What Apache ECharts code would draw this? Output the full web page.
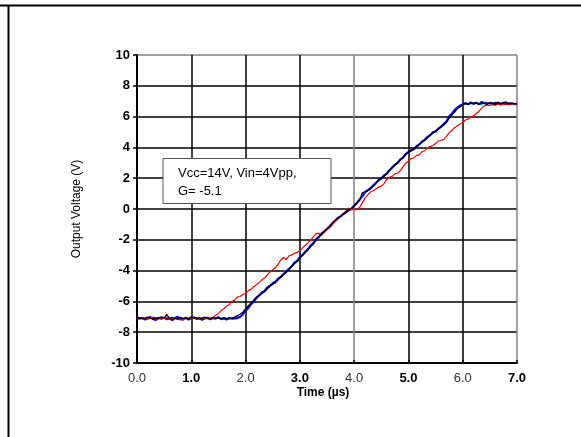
<!DOCTYPE html>
<html>
<head>
<meta charset="utf-8">
<script src="https://cdn.jsdelivr.net/npm/echarts@6/dist/echarts.min.js"></script>
<style>
html,body{margin:0;padding:0;background:#fff;}
#chart{width:581px;height:437px;}
</style>
</head>
<body>
<div id="chart"></div>
<script>
// Time samples (µs)
const times = [
0.00,0.05,0.10,0.15,0.20,0.25,0.30,0.35,0.40,0.45,
0.50,0.55,0.60,0.65,0.70,0.75,0.80,0.85,0.90,0.95,
1.00,1.05,1.10,1.15,1.20,1.25,1.30,1.35,1.40,1.45,
1.50,1.55,1.60,1.65,1.70,1.75,1.80,1.85,1.90,1.95,
2.00,2.05,2.10,2.15,2.20,2.25,2.30,2.35,2.40,2.45,
2.50,2.55,2.60,2.65,2.70,2.75,2.80,2.85,2.90,2.95,
3.00,3.05,3.10,3.15,3.20,3.25,3.30,3.35,3.40,3.45,
3.50,3.55,3.60,3.65,3.70,3.75,3.80,3.85,3.90,3.95,
4.00,4.05,4.10,4.15,4.20,4.25,4.30,4.35,4.40,4.45,
4.50,4.55,4.60,4.65,4.70,4.75,4.80,4.85,4.90,4.95,
5.00,5.05,5.10,5.15,5.20,5.25,5.30,5.35,5.40,5.45,
5.50,5.55,5.60,5.65,5.70,5.75,5.80,5.85,5.90,5.95,
6.00,6.05,6.10,6.15,6.20,6.25,6.30,6.35,6.40,6.45,
6.50,6.55,6.60,6.65,6.70,6.75,6.80,6.85,6.90,6.95,
7.00];

const blueTrace = [
-7.05,-7.12,-7.08,-7.18,-7.10,-7.02,-7.15,-7.20,-7.08,-7.12,
-7.05,-7.16,-7.10,-7.22,-7.08,-7.00,-7.12,-7.15,-7.06,-7.18,
-7.10,-7.04,-7.14,-7.08,-7.20,-7.10,-7.06,-7.16,-7.08,-7.12,
-7.02,-7.15,-7.10,-7.18,-7.08,-7.12,-7.10,-7.08,-7.00,-6.85,
-6.60,-6.42,-6.18,-6.02,-5.78,-5.62,-5.42,-5.32,-5.10,-4.98,
-4.82,-4.72,-4.52,-4.42,-4.22,-4.08,-3.88,-3.72,-3.48,-3.38,
-3.12,-2.98,-2.78,-2.62,-2.38,-2.22,-1.98,-1.82,-1.58,-1.48,
-1.28,-1.12,-0.92,-0.78,-0.58,-0.48,-0.32,-0.22,-0.08,0.02,
0.22,0.38,0.62,0.82,1.08,1.22,1.32,1.52,1.68,1.88,
1.98,2.18,2.28,2.52,2.68,2.88,2.98,3.22,3.32,3.58,
3.68,3.82,3.88,4.08,4.18,4.38,4.48,4.68,4.78,4.98,
5.02,5.22,5.32,5.52,5.68,6.02,6.18,6.42,6.58,6.72,
6.78,6.86,6.82,6.88,6.84,6.90,6.82,6.86,6.90,6.84,
6.88,6.82,6.90,6.86,6.84,6.88,6.82,6.86,6.84,6.80,
6.82];

const blackTrace = [
-7.10,-7.05,-7.12,-7.08,-7.02,-7.10,-7.15,-7.06,-7.10,-7.00,
-7.08,-6.85,-7.12,-7.05,-7.10,-7.15,-7.04,-7.10,-7.08,-7.12,
-7.00,-7.10,-7.06,-7.14,-7.08,-7.02,-7.12,-7.10,-7.05,-7.10,
-7.08,-7.12,-7.06,-7.10,-7.12,-7.08,-7.02,-6.92,-6.82,-6.70,
-6.48,-6.30,-6.12,-5.92,-5.72,-5.60,-5.50,-5.36,-5.18,-5.02,
-4.88,-4.78,-4.60,-4.38,-4.25,-4.10,-3.95,-3.72,-3.55,-3.40,
-3.18,-3.00,-2.82,-2.58,-2.42,-2.25,-1.95,-1.78,-1.62,-1.42,
-1.30,-1.15,-0.90,-0.72,-0.62,-0.45,-0.36,-0.18,-0.05,0.05,
0.18,0.42,0.55,1.05,1.12,1.18,1.38,1.48,1.70,1.85,
2.02,2.12,2.32,2.48,2.72,2.82,3.02,3.18,3.36,3.52,
3.72,3.78,3.92,4.02,4.22,4.32,4.52,4.62,4.82,4.92,
5.08,5.18,5.38,5.45,5.62,5.90,6.10,6.30,6.50,6.62,
6.75,6.88,6.78,6.95,6.82,6.90,6.78,6.98,6.85,6.80,
6.92,6.88,6.78,6.95,6.82,6.90,6.95,6.80,6.88,6.85,
6.82];

const redTrace = [
-7.08,-7.12,-7.05,-7.10,-7.15,-7.08,-7.02,-7.10,-7.12,-7.06,
-7.10,-7.04,-7.12,-7.08,-7.10,-7.15,-7.20,-7.22,-7.06,-7.12,
-7.08,-7.10,-7.05,-7.12,-7.08,-7.10,-7.04,-7.10,-7.05,-6.90,
-6.78,-6.60,-6.48,-6.30,-6.22,-6.00,-5.92,-5.70,-5.68,-5.55,
-5.48,-5.30,-5.22,-5.05,-4.92,-4.78,-4.60,-4.48,-4.30,-4.08,
-3.95,-3.82,-3.58,-3.30,-3.15,-3.28,-3.05,-2.98,-2.88,-2.82,
-2.70,-2.52,-2.35,-2.20,-2.02,-1.80,-1.60,-1.58,-1.72,-1.50,
-1.35,-1.20,-1.02,-0.82,-0.65,-0.48,-0.30,-0.12,0.05,-0.05,
-0.02,-0.05,0.10,0.40,0.72,0.90,1.10,1.18,1.30,1.42,
1.48,1.65,1.92,2.05,2.12,2.28,2.32,2.48,2.75,2.98,
3.10,3.28,3.32,3.48,3.52,3.72,3.78,3.98,4.05,4.12,
4.25,4.42,4.45,4.52,4.72,4.95,5.10,5.28,5.40,5.52,
5.60,5.78,5.85,5.98,6.05,6.20,6.35,6.55,6.70,6.75,
6.72,6.78,6.75,6.80,6.76,6.78,6.82,6.78,6.80,6.84,
6.80];

const xTickLabels = ['0.0','1.0','2.0','3.0','4.0','5.0','6.0','7.0'];
const yTickLabels = ['-10','-8','-6','-4','-2','0','2','4','6','8','10'];
const annotationLines = ['Vcc=14V, Vin=4Vpp,', 'G= -5.1'];
const xTitle = 'Time (µs)';
const yTitle = 'Output Voltage (V)';

function pairs(vals){ return vals.map((v,i)=>[times[i], v]); }

const FONT = '"Liberation Sans", Arial, Helvetica, sans-serif';
const chart = echarts.init(document.getElementById('chart'), null, {renderer:'canvas'});

chart.setOption({
  animation:false,
  backgroundColor:'#fff',
  grid:{left:137, right:64, top:55, bottom:74, show:false},
  xAxis:{
    type:'value', min:0, max:7, interval:1,
    axisLine:{show:true, onZero:false, lineStyle:{color:'#000', width:2}},
    axisTick:{show:true, inside:true, length:3, lineStyle:{color:'#000', width:1.5}},
    splitLine:{show:true, lineStyle:{color:['#000','#000','#000','#000','#808080','#000','#000','#808080'], width:1.5}},
    axisLabel:{
      margin:9, fontFamily:FONT, fontSize:13,
      formatter:function(v){
        const i = Math.round(v);
        const s = xTickLabels[i];
        return (i % 2 === 1) ? '{b|'+s+'}' : '{n|'+s+'}';
      },
      rich:{
        b:{fontFamily:FONT, fontSize:13, fontWeight:'bold', color:'#000'},
        n:{fontFamily:FONT, fontSize:13, fontWeight:'normal', color:'#333'}
      }
    }
  },
  yAxis:{
    type:'value', min:-10, max:10, interval:2,
    axisLine:{show:true, onZero:false, lineStyle:{color:'#000', width:2}},
    axisTick:{show:true, length:4, lineStyle:{color:'#000', width:1.5}},
    splitLine:{show:true, lineStyle:{color:['#000','#000','#000','#000','#000','#000','#000','#000','#000','#000','#808080'], width:1.5}},
    axisLabel:{
      margin:7, fontFamily:FONT, fontSize:13, fontWeight:'bold', color:'#000',
      formatter:function(v){ return yTickLabels[Math.round((v+10)/2)]; }
    }
  },
  series:[
    {type:'line', name:'blue', data:pairs(blueTrace), showSymbol:false, symbol:'none',
     lineStyle:{color:'#0000ff', width:2.2}, z:2},
    {type:'line', name:'red', data:pairs(redTrace), showSymbol:false, symbol:'none',
     lineStyle:{color:'#ff0000', width:1.2}, z:3},
    {type:'line', name:'black', data:pairs(blackTrace), showSymbol:false, symbol:'none',
     lineStyle:{color:'#000000', width:1.3}, z:4}
  ],
  graphic:[
    {type:'line', shape:{x1:0, y1:5.5, x2:581, y2:5.5}, style:{stroke:'#000', lineWidth:2}},
    {type:'line', shape:{x1:8.5, y1:5, x2:8.5, y2:437}, style:{stroke:'#000', lineWidth:2}},
    {type:'rect', shape:{x:163, y:158.5, width:168, height:45}, style:{fill:'#fff', stroke:'#555', lineWidth:1}, z:100},
    {type:'text', x:178, y:173, style:{text:annotationLines[0], font:'13px '+FONT, fill:'#000', textVerticalAlign:'middle', verticalAlign:'middle'}, z:101},
    {type:'text', x:178, y:191.5, style:{text:annotationLines[1], font:'13px '+FONT, fill:'#000', textVerticalAlign:'middle', verticalAlign:'middle'}, z:101},
    {type:'text', x:323, y:393, style:{text:xTitle, font:'bold 12px '+FONT, fill:'#000', align:'center', verticalAlign:'middle', textAlign:'center', textVerticalAlign:'middle'}, z:101},
    {type:'text', x:77, y:209, rotation:Math.PI/2, style:{text:yTitle, font:'12px '+FONT, fill:'#000', align:'center', verticalAlign:'middle', textAlign:'center', textVerticalAlign:'middle'}, z:101}
  ]
});
</script>
</body>
</html>
